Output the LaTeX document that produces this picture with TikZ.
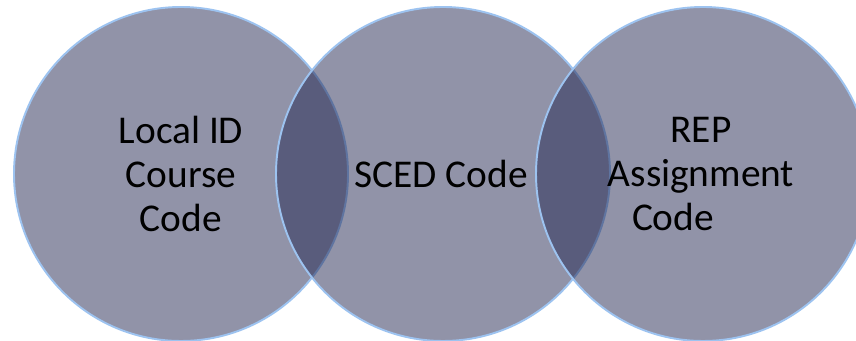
\documentclass[tikz,border=0pt]{standalone}
\usepackage{fontspec}
\setmainfont{Carlito}
\usepackage{tikz}
\usepackage{xcolor}
\definecolor{vennfill}{RGB}{35,39,81}
\definecolor{vennline}{RGB}{157,195,240}
\tikzset{
    venncircle/.style={draw=vennline, line width=1.1pt, fill=vennfill, fill opacity=0.5},
    venntext/.style={align=center, inner sep=0pt, text=black,
        font=\fontsize{22.4}{24.8}\selectfont}
}

\begin{document}
\begin{tikzpicture}
    \useasboundingbox (0,0) rectangle (17.12,6.82);
% Local ID Course Code
    \begin{scope}[shift={(3.62,3.34)}]
        \draw[venncircle] (0,0) circle (3.34);
    \end{scope}
% SCED Code
    \begin{scope}[shift={(8.86,3.34)}]
        \draw[venncircle] (0,0) circle (3.34);
    \end{scope}
% REP Assignment Code
    \begin{scope}[shift={(14.06,3.34)}]
        \draw[venncircle] (0,0) circle (3.34);
    \end{scope}
% Labels
    \node[venntext] (local) at (3.62,3.34) {Local ID\\Course\\Code};
    \node[venntext] (sced) at (8.82,3.34) {SCED Code};
    \node[venntext] (rep) at (14.02,3.34) {REP\\Assignment\\\hspace*{-1.12cm}Code};
\end{tikzpicture}
\end{document}
